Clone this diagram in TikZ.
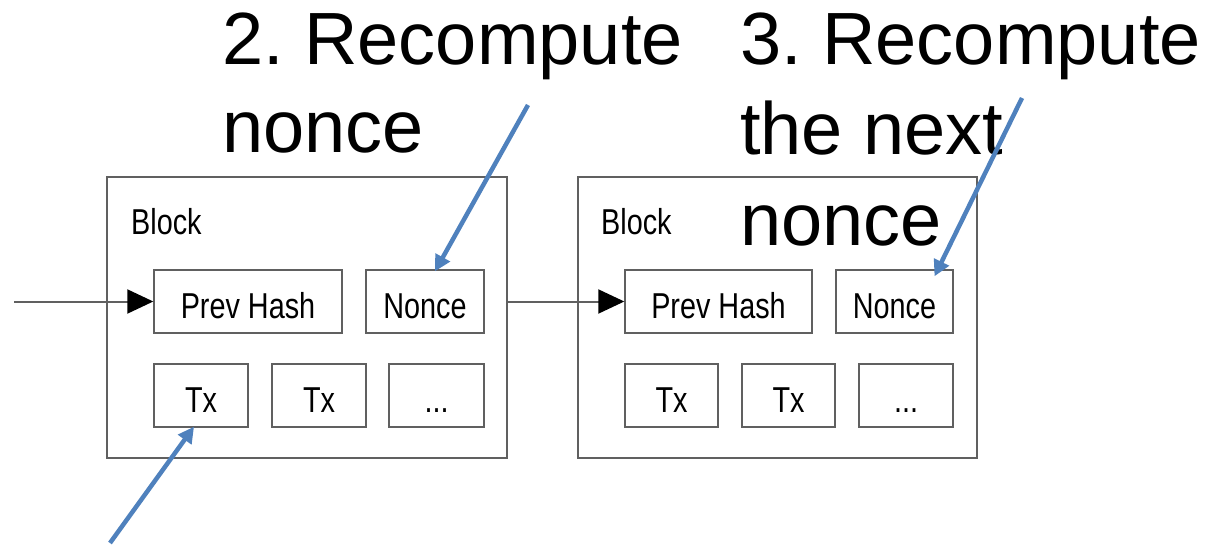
\documentclass[tikz,border=0pt]{standalone}
\usepackage{fontspec}
\setmainfont{Liberation Sans}
\newfontfamily\narrowfont{Liberation Sans}[FakeStretch=0.8]
\usetikzlibrary{arrows.meta}
\definecolor{boxgray}{HTML}{606060}
\definecolor{officeblue}{HTML}{4F81BD}
\frenchspacing
\tikzset{
  blockbox/.style={draw=boxgray, line width=1.4pt, minimum width=400pt, minimum height=281pt, inner sep=0pt},
  fieldbox/.style={draw=boxgray, line width=1.4pt, minimum height=63pt, inner sep=0pt,
    text height=33pt, text depth=0pt,
    font=\narrowfont\fontsize{36}{40}\selectfont},
  blocklabel/.style={anchor=base west, inner sep=0pt, font=\narrowfont\fontsize{36}{40}\selectfont},
  bigtext/.style={anchor=base west, inner sep=0pt, font=\fontsize{74}{88}\selectfont},
  conn/.style={draw=boxgray, line width=2pt, -{Triangle[length=26pt,width=24pt,color=black]}},
  bluearrow/.style={draw=officeblue, line width=4.5pt, -{Triangle[length=16pt,width=16pt]}},
}
\begin{document}
\begin{tikzpicture}[x=1pt,y=-1pt]
\useasboundingbox (0,0) rectangle (1206,545);
% Block 1
\node[blockbox] (b1) at (307,317.5) {};
\node[blocklabel] (l1) at (131,235) {Block};
\node[fieldbox, minimum width=188pt] (ph1) at (248,301.5) {Prev Hash};
\node[fieldbox, minimum width=118pt] (n1) at (425,301.5) {Nonce};
\node[fieldbox, minimum width=94pt] (t1a) at (201,395.5) {Tx};
\node[fieldbox, minimum width=94pt] (t1b) at (319,395.5) {Tx};
\node[fieldbox, minimum width=95pt] (t1c) at (436.5,395.5) {...};
% Block 2
\node[blockbox, minimum width=399pt] (b2) at (777.5,317.5) {};
\node[blocklabel] (l2) at (601,235) {Block};
\node[fieldbox, minimum width=187pt] (ph2) at (718.5,301.5) {Prev Hash};
\node[fieldbox, minimum width=117pt] (n2) at (894.5,301.5) {Nonce};
\node[fieldbox, minimum width=93pt] (t2a) at (671.5,395.5) {Tx};
\node[fieldbox, minimum width=93pt] (t2b) at (788.5,395.5) {Tx};
\node[fieldbox, minimum width=94pt] (t2c) at (906,395.5) {...};
% connectors
\coordinate (in) at (14,301.5);
\draw[conn] (in) -- (ph1.west);
\draw[conn] (b1.east |- ph2.west) -- (ph2.west);
% labels
\node[bigtext] (s2a) at (222,65) {2. Recompute};
\node[bigtext] (s2b) at (222,153) {nonce};
\node[bigtext] (s3a) at (740,65) {3. Recompute};
\node[bigtext] (s3b) at (740,155) {the next};
\node[bigtext] (s3c) at (740,245) {nonce};
% blue arrows
\coordinate (a1) at (110,543);
\coordinate (a2) at (528,105);
\coordinate (a3) at (1022,98);
\draw[bluearrow] (a1) -- ([xshift=-7pt,yshift=1pt]t1a.south);
\draw[bluearrow] (a2) -- ([xshift=10pt,yshift=-2pt]n1.north);
\draw[bluearrow] (a3) -- ([xshift=40pt,yshift=-7pt]n2.north);
\end{tikzpicture}
\end{document}
